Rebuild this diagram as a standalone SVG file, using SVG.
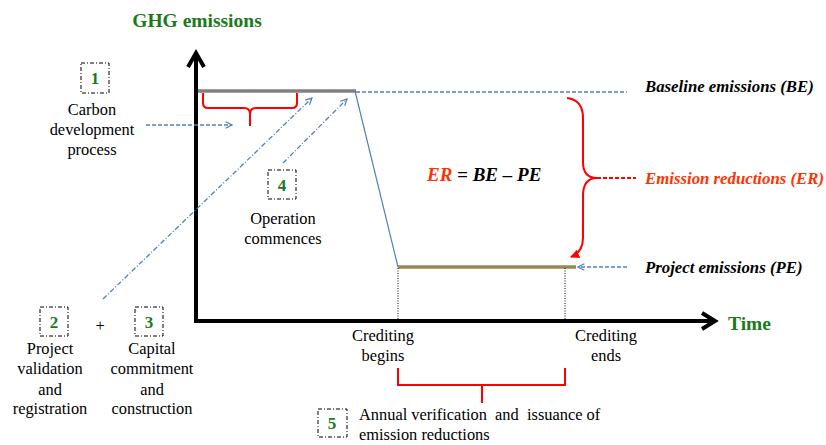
<svg xmlns="http://www.w3.org/2000/svg" width="826" height="445" viewBox="0 0 826 445">
<defs>
<marker id="openArrow" viewBox="0 0 10 10" refX="9" refY="5" markerWidth="8" markerHeight="8" markerUnits="userSpaceOnUse" orient="auto">
<path d="M1,1 L9,5 L1,9" fill="none" stroke="#4F81BD" stroke-width="1.5"/>
</marker>
<marker id="redArrow" viewBox="0 0 10 10" refX="9" refY="5" markerWidth="9" markerHeight="9" markerUnits="userSpaceOnUse" orient="auto">
<path d="M0,0 L10,5 L0,10 Z" fill="#FF0000"/>
</marker>
</defs>
<rect width="826" height="445" fill="#fff"/>

<g id="axes">
<line x1="196" y1="322" x2="196" y2="54" stroke="#000" stroke-width="4"/>
<polyline points="188,67 196,53 204,67" fill="none" stroke="#000" stroke-width="4"/>
<line x1="194" y1="321" x2="713" y2="321" stroke="#000" stroke-width="4"/>
<polyline points="702,313 715,321 702,329" fill="none" stroke="#000" stroke-width="4"/>
<text font-family="Liberation Serif, serif" font-size="19.5" font-weight="bold" fill="#1A7A1A" x="197" y="27" text-anchor="middle">GHG emissions</text>
<text font-family="Liberation Serif, serif" font-size="19.5" font-weight="bold" fill="#1A7A1A" x="728" y="330">Time</text>
</g>

<g id="emission-lines">
<line x1="198" y1="91" x2="356" y2="91" stroke="#808080" stroke-width="3.5"/>
<line x1="356" y1="92" x2="627" y2="92" stroke="#4F81BD" stroke-width="1.3" stroke-dasharray="4 2"/>
<line x1="355" y1="91" x2="398" y2="267" stroke="#4F81BD" stroke-width="1.2"/>
<line x1="398" y1="267" x2="576" y2="267" stroke="#948A54" stroke-width="3.5"/>
<line x1="398" y1="268" x2="398" y2="320" stroke="#000" stroke-width="1" stroke-dasharray="1 1.5"/>
<line x1="565" y1="268" x2="565" y2="320" stroke="#000" stroke-width="1" stroke-dasharray="1 1.5"/>
</g>

<g id="connectors" fill="none" stroke="#4F81BD" stroke-width="1.3">
<line x1="146" y1="125" x2="232" y2="125" stroke-dasharray="4 2" marker-end="url(#openArrow)"/>
<line x1="103" y1="299" x2="312" y2="98" stroke-dasharray="5 2 1 2" marker-end="url(#openArrow)"/>
<line x1="283" y1="163" x2="347" y2="99" stroke-dasharray="5 2 1 2" marker-end="url(#openArrow)"/>
<line x1="627" y1="267" x2="578" y2="267" stroke-dasharray="4 2" marker-end="url(#openArrow)"/>
</g>

<g id="braces" fill="none" stroke="#FF0000" stroke-width="2">
<path d="M203,93 L203,103 Q203,108 208,108 L244,108 Q250,108 250,114 L250,126 M250,114 Q250,108 256,108 L292,108 Q297,108 297,103 L297,93"/>
<path d="M567,98 Q583,100 583,118 L583,162 Q583,178 597,178"/>
<path d="M597,178 Q583,178 583,196 L583,238 Q583,252 571,257" marker-end="url(#redArrow)"/>
<line x1="597" y1="178" x2="636" y2="178" stroke-dasharray="4 2"/>
<path d="M398,368 L398,385 L565,385 L565,368 M482,385 L482,403"/>
</g>

<g id="labels" font-size="16.8" font-weight="bold" font-style="italic" fill="#000">
<text font-family="Liberation Serif, serif" x="645" y="92">Baseline emissions (BE)</text>
<text font-family="Liberation Serif, serif" x="645" y="184" fill="#FF3300">Emission reductions (ER)</text>
<text font-family="Liberation Serif, serif" x="645" y="273">Project emissions (PE)</text>
<text font-family="Liberation Serif, serif" x="427" y="181" font-size="19">
<tspan fill="#FF3300">ER</tspan> = BE – PE</text>
</g>

<g id="boxes" fill="none" stroke="#000" stroke-width="1" stroke-dasharray="4 2 1 2">
<rect x="81" y="63" width="28" height="30"/>
<rect x="268" y="170" width="28" height="29"/>
<rect x="40" y="307" width="28" height="29"/>
<rect x="135" y="307" width="28" height="29"/>
<rect x="318" y="409" width="29" height="28"/>
</g>

<g id="numbers" font-size="17" font-weight="bold" fill="#1A7A1A" text-anchor="middle">
<text font-family="Liberation Serif, serif" x="95" y="84">1</text>
<text font-family="Liberation Serif, serif" x="282" y="191">4</text>
<text font-family="Liberation Serif, serif" x="54" y="328">2</text>
<text font-family="Liberation Serif, serif" x="149" y="328">3</text>
<text font-family="Liberation Serif, serif" x="332" y="429">5</text>
</g>

<g id="texts" font-size="16.4" fill="#000" text-anchor="middle">
<text font-family="Liberation Serif, serif" x="92" y="115">Carbon</text>
<text font-family="Liberation Serif, serif" x="92" y="135">development</text>
<text font-family="Liberation Serif, serif" x="92" y="155">process</text>
<text font-family="Liberation Serif, serif" x="283" y="224">Operation</text>
<text font-family="Liberation Serif, serif" x="283" y="244">commences</text>
<text font-family="Liberation Serif, serif" x="50" y="354">Project</text>
<text font-family="Liberation Serif, serif" x="50" y="374">validation</text>
<text font-family="Liberation Serif, serif" x="50" y="395">and</text>
<text font-family="Liberation Serif, serif" x="50" y="414">registration</text>
<text font-family="Liberation Serif, serif" x="100" y="331">+</text>
<text font-family="Liberation Serif, serif" x="152" y="354">Capital</text>
<text font-family="Liberation Serif, serif" x="152" y="374">commitment</text>
<text font-family="Liberation Serif, serif" x="152" y="395">and</text>
<text font-family="Liberation Serif, serif" x="152" y="414">construction</text>
<text font-family="Liberation Serif, serif" x="383" y="341">Crediting</text>
<text font-family="Liberation Serif, serif" x="383" y="361">begins</text>
<text font-family="Liberation Serif, serif" x="606" y="341">Crediting</text>
<text font-family="Liberation Serif, serif" x="606" y="361">ends</text>
<text font-family="Liberation Serif, serif" x="359" y="420" text-anchor="start" xml:space="preserve">Annual verification  and  issuance of</text>
<text font-family="Liberation Serif, serif" x="359" y="440" text-anchor="start">emission reductions</text>
</g>
</svg>
